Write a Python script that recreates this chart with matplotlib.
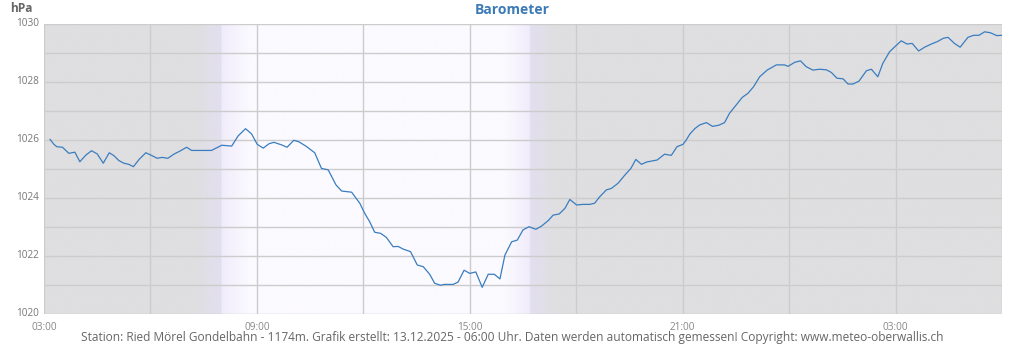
import numpy as np
import matplotlib
matplotlib.use("Agg")
import matplotlib.pyplot as plt

plt.rcParams['font.family'] = ['Open Sans', 'DejaVu Sans']

# hours after 03:00
hours = [0.17, 0.28, 0.36, 0.52, 0.70, 0.87, 1.01, 1.18, 1.34, 1.50, 1.67, 1.84, 1.97,
         2.11, 2.25, 2.39, 2.52, 2.68, 2.87, 3.01, 3.19, 3.33, 3.49, 3.66, 3.85, 4.02,
         4.16, 4.72, 5.01, 5.29, 5.47, 5.68, 5.85, 6.01, 6.18, 6.34, 6.48, 6.70, 6.85,
         7.04, 7.18, 7.38, 7.63, 7.82, 8.01, 8.23, 8.39, 8.67, 8.90, 9.04, 9.18, 9.32,
         9.49, 9.65, 9.84, 9.98, 10.12, 10.33, 10.52, 10.69, 10.87, 11.01, 11.18, 11.27,
         11.53, 11.67, 11.84, 12.00, 12.17, 12.35, 12.52, 12.69, 12.85, 12.99, 13.18,
         13.34, 13.50, 13.67, 13.86, 14.02, 14.21, 14.35, 14.52, 14.68, 14.82, 15.01,
         15.19, 15.38, 15.52, 15.66, 15.85, 15.99, 16.18, 16.37, 16.54, 16.68, 16.84,
         16.98, 17.16, 17.28, 17.49, 17.68, 17.84, 18.01, 18.10, 18.20, 18.34, 18.48,
         18.67, 18.84, 19.02, 19.18, 19.32, 19.51, 19.68, 19.84, 20.00, 20.17, 20.38,
         20.64, 20.87, 20.97, 21.16, 21.32, 21.48, 21.67, 21.86, 22.05, 22.19, 22.35,
         22.52, 22.66, 22.80, 22.97, 23.18, 23.32, 23.50, 23.64, 23.83, 24.00, 24.16,
         24.32, 24.47, 24.65, 24.82, 25.01, 25.19, 25.35, 25.48, 25.66, 25.82, 26.04,
         26.20, 26.35, 26.51, 26.67, 26.85, 27.00]

pressure = [1026.02, 1025.85, 1025.77, 1025.75, 1025.54, 1025.58, 1025.25, 1025.48,
            1025.63, 1025.52, 1025.20, 1025.56, 1025.46, 1025.29, 1025.20, 1025.16,
            1025.08, 1025.33, 1025.56, 1025.48, 1025.37, 1025.40, 1025.37, 1025.51,
            1025.63, 1025.75, 1025.64, 1025.64, 1025.82, 1025.79, 1026.14, 1026.39,
            1026.21, 1025.85, 1025.72, 1025.87, 1025.92, 1025.83, 1025.75, 1025.99,
            1025.94, 1025.79, 1025.56, 1025.02, 1024.97, 1024.45, 1024.24, 1024.20,
            1023.82, 1023.47, 1023.18, 1022.82, 1022.78, 1022.64, 1022.32, 1022.33,
            1022.24, 1022.15, 1021.69, 1021.63, 1021.37, 1021.06, 1020.99, 1021.02,
            1021.02, 1021.10, 1021.51, 1021.40, 1021.45, 1020.92, 1021.37, 1021.37,
            1021.21, 1022.03, 1022.49, 1022.55, 1022.90, 1023.01, 1022.92, 1023.03,
            1023.22, 1023.41, 1023.45, 1023.64, 1023.95, 1023.76, 1023.78, 1023.78,
            1023.82, 1024.04, 1024.28, 1024.33, 1024.51, 1024.79, 1025.02, 1025.33,
            1025.16, 1025.24, 1025.28, 1025.31, 1025.51, 1025.47, 1025.77, 1025.85,
            1026.00, 1026.20, 1026.39, 1026.52, 1026.60, 1026.47, 1026.51, 1026.60,
            1026.92, 1027.21, 1027.47, 1027.61, 1027.84, 1028.18, 1028.41, 1028.59,
            1028.59, 1028.54, 1028.68, 1028.73, 1028.53, 1028.41, 1028.44, 1028.42,
            1028.33, 1028.13, 1028.11, 1027.93, 1027.93, 1028.03, 1028.39, 1028.44,
            1028.18, 1028.64, 1029.04, 1029.24, 1029.42, 1029.31, 1029.33, 1029.07,
            1029.20, 1029.31, 1029.40, 1029.51, 1029.54, 1029.33, 1029.20, 1029.54,
            1029.61, 1029.61, 1029.73, 1029.70, 1029.60, 1029.61]

x_ticks = [0, 6, 12, 18, 24]
x_tick_labels = ["03:00", "09:00", "15:00", "21:00", "03:00"]
y_ticks = [1020, 1022, 1024, 1026, 1028, 1030]

title = "Barometer"
unit = "hPa"
footer = ("Station: Ried Mörel Gondelbahn - 1174m. Grafik erstellt: 13.12.2025 - 06:00 Uhr. "
          "Daten werden automatisch gemessen! Copyright: www.meteo-oberwallis.ch")

fig = plt.figure(figsize=(10.24, 3.5), dpi=100)
ax = fig.add_axes([44/1024, 1-314/350, (1002-44)/1024, 290/350])

# day/night background gradient
gray = np.array([0xdf, 0xdf, 0xe1]) / 255
lav1 = np.array([0xe3, 0xdf, 0xf0]) / 255
lav2 = np.array([0xf1, 0xec, 0xfb]) / 255
white = np.array([0xfb, 0xfa, 0xff]) / 255
stops = [(0, gray), (4.3, gray), (4.999, lav1), (5.0, lav2), (5.8, white),
         (13.0, white), (13.69, lav2), (13.7, lav1), (14.4, gray), (27, gray)]
xs = np.linspace(0, 27, 3000)
img = np.zeros((1, len(xs), 3))
sx = [s[0] for s in stops]
for c in range(3):
    img[0, :, c] = np.interp(xs, sx, [s[1][c] for s in stops])
ax.imshow(img, extent=[0, 27, 1020, 1030], aspect='auto', zorder=0, interpolation='bilinear')

ax.set_xlim(0, 27)
ax.set_ylim(1020, 1030)
ax.set_xticks(np.arange(0, 28, 3))
ax.set_yticks(np.arange(1020, 1031, 1))
ax.grid(True, color='#cccccc', linewidth=1.0, zorder=1)
ax.set_axisbelow(False)

ax.plot(hours, pressure, color='#3a7dbf', linewidth=0.9, zorder=3)

for s in ax.spines.values():
    s.set_visible(False)
ax.tick_params(length=0, labelbottom=False, labelleft=False)

for t, lab in zip(x_ticks, x_tick_labels):
    ax.text(t, 1019.72, lab, ha='center', va='top', fontsize=7.2, color='#888888')
for v in y_ticks:
    ax.text(-0.15, v, str(v), ha='right', va='center', fontsize=7.2, color='#777777')

fig.text(10/1024, 1-9/350, unit, ha='left', va='center', fontsize=8.6, fontweight='bold', color='#666666')
fig.text(512/1024, 1-10/350, title, ha='center', va='center', fontsize=10, fontweight='bold', color='#3d7ab8')
fig.text(512/1024, 1-337/350, footer, ha='center', va='center', fontsize=8.6, color='#666666')

fig.savefig("out.png", dpi=100)
